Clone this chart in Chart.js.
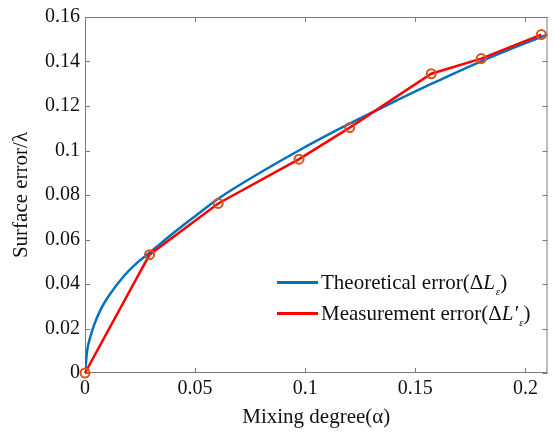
<!DOCTYPE html>
<html lang="en">
<head>
    <meta charset="UTF-8">
    <title>Surface error vs mixing degree</title>
    <script src="https://cdn.jsdelivr.net/npm/chart.js"></script>
    <style>
        body { margin: 0; background: #fff; }
        #wrap { position: relative; width: 554px; height: 432px; }
        #legend {
            position: absolute; left: 277px; top: 267px;
            font-family: "Liberation Serif", serif; font-size: 21px; color: #111;
        }
        .row { display: flex; align-items: center; height: 31px; white-space: nowrap; }
        .swatch { width: 41px; height: 3px; margin-right: 3px; flex: none; }
        .sub { font-size: 11px; font-style: italic; position: relative; top: 6px; margin-left: 1px; }
    </style>
</head>
<body>
    <div id="wrap">
        <canvas id="chart" width="554" height="432"></canvas>
        <div id="legend">
            <div class="row"><div class="swatch" style="background:#0072bd"></div><span>Theoretical error(&Delta;<i>L</i><span class="sub">&epsilon;</span>)</span></div>
            <div class="row"><div class="swatch" style="background:#ff0000"></div><span>Measurement error(&Delta;<i>L&prime;</i><span class="sub">&epsilon;</span>)</span></div>
        </div>
    </div>

    <script>
        // theoretical curve
        const theoryX = [0, 0.001, 0.0023, 0.0041, 0.0071, 0.0116, 0.0176, 0.0236, 0.029, 0.04, 0.05, 0.06, 0.07, 0.0969, 0.115, 0.1345, 0.1572, 0.1799, 0.21];
        const theoryY = [0, 0.0102, 0.0158, 0.0215, 0.0285, 0.0358, 0.0435, 0.0495, 0.0538, 0.0628, 0.0705, 0.078, 0.0844, 0.0999, 0.1095, 0.1191, 0.1299, 0.1401, 0.1522];

        // measured points
        const measX = [0, 0.0293, 0.0605, 0.0972, 0.1202, 0.1572, 0.1799, 0.2072];
        const measY = [0, 0.0532, 0.0762, 0.0961, 0.1103, 0.1345, 0.1413, 0.1521];

        const xTicks = [0, 0.05, 0.1, 0.15, 0.2];
        const yTicks = [0, 0.02, 0.04, 0.06, 0.08, 0.1, 0.12, 0.14, 0.16];

        const tickFont = { family: "Liberation Serif", size: 20 };
        const titleFont = { family: "Liberation Serif", size: 21 };

        // box around plot with inward ticks like matlab
        const framePlugin = {
            id: "frame",
            beforeDatasetsDraw(chart) {
                const ctx = chart.ctx;
                const a = chart.chartArea;
                const xs = chart.scales.x, ys = chart.scales.y;
                ctx.save();
                ctx.strokeStyle = "#7a7a7a";
                ctx.lineWidth = 1;
                ctx.strokeRect(a.left + 0.5, a.top + 0.5, a.right - a.left - 1, a.bottom - a.top - 1);
                ctx.beginPath();
                xTicks.forEach(v => {
                    const px = Math.round(xs.getPixelForValue(v)) + 0.5;
                    ctx.moveTo(px, a.bottom); ctx.lineTo(px, a.bottom - 5);
                    ctx.moveTo(px, a.top); ctx.lineTo(px, a.top + 5);
                });
                yTicks.forEach(v => {
                    const py = Math.round(ys.getPixelForValue(v)) + 0.5;
                    ctx.moveTo(a.left, py); ctx.lineTo(a.left + 5, py);
                    ctx.moveTo(a.right, py); ctx.lineTo(a.right - 5, py);
                });
                ctx.stroke();
                ctx.restore();
            }
        };

        new Chart(document.getElementById("chart"), {
            type: "scatter",
            data: {
                datasets: [
                    {
                        label: "Measurement error",
                        data: measX.map((x, i) => ({ x: x, y: measY[i] })),
                        showLine: true,
                        clip: false,
                        borderColor: "#ff0000",
                        borderWidth: 2.5,
                        pointRadius: 4.5,
                        pointBorderWidth: 2,
                        pointBorderColor: "#d95319",
                        pointBackgroundColor: "rgba(0,0,0,0)",
                        order: 1,
                    },
                    {
                        label: "Theoretical error",
                        data: theoryX.map((x, i) => ({ x: x, y: theoryY[i] })),
                        showLine: true,
                        borderColor: "#0072bd",
                        borderWidth: 2.5,
                        pointRadius: 0,
                        cubicInterpolationMode: "monotone",
                        order: 2,
                    },
                ],
            },
            options: {
                responsive: false,
                animation: false,
                layout: { padding: { left: 0, right: 4, top: 15, bottom: 0 } },
                plugins: { legend: { display: false }, tooltip: { enabled: false } },
                scales: {
                    x: {
                        type: "linear",
                        min: 0, max: 0.21,
                        grid: { display: false, drawTicks: false },
                        border: { display: false },
                        afterBuildTicks: s => { s.ticks = xTicks.map(v => ({ value: v })); },
                        afterFit: s => { s.height = 59; },
                        ticks: {
                            font: tickFont, color: "#111", padding: 4, maxRotation: 0,
                            callback: v => String(+v.toFixed(2)),
                        },
                        title: { display: true, text: "Mixing degree(α)", font: titleFont, color: "#111", padding: { top: 1.5, bottom: 1.5 } },
                    },
                    y: {
                        min: 0, max: 0.16,
                        grid: { display: false, drawTicks: false },
                        border: { display: false },
                        afterBuildTicks: s => { s.ticks = yTicks.map(v => ({ value: v })); },
                        afterFit: s => { s.width = 85; },
                        ticks: {
                            font: tickFont, color: "#111", padding: 5,
                            callback: v => String(+v.toFixed(2)),
                        },
                        title: { display: true, text: "Surface error/λ", font: titleFont, color: "#111", padding: { top: 9, bottom: 9 } },
                    },
                },
            },
            plugins: [framePlugin],
        });
    </script>
</body>
</html>
